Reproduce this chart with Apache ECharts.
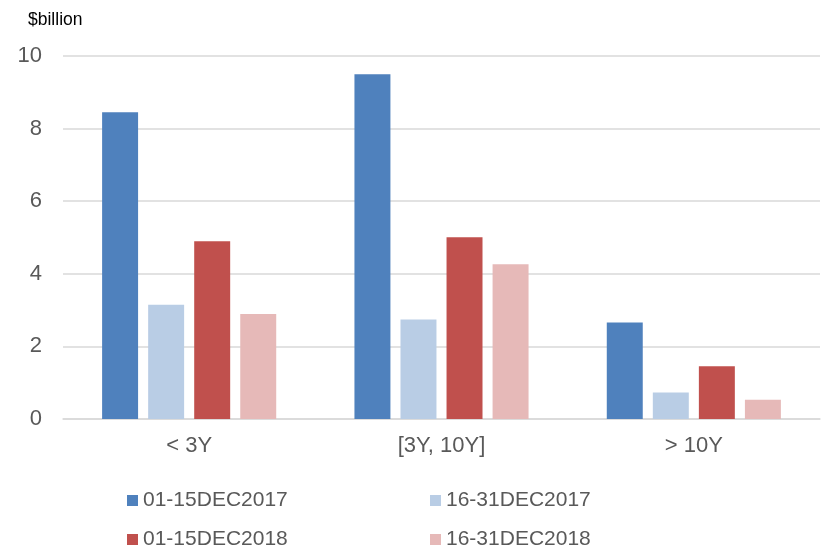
<!DOCTYPE html>
<html>
<head>
<meta charset="utf-8">
<script src="https://cdn.jsdelivr.net/npm/echarts@6/dist/echarts.min.js"></script>
<style>
  html, body { margin: 0; padding: 0; background: #fff; }
  #chart { width: 827px; height: 550px; }
</style>
</head>
<body>
<div id="chart"></div>
<script>
// 期限分类
const categories = ['< 3Y', '[3Y, 10Y]', '> 10Y'];
const seriesNames = ['01-15DEC2017', '16-31DEC2017', '01-15DEC2018', '16-31DEC2018'];
const dec2017a = [8.45, 9.50, 2.66];
const dec2017b = [3.15, 2.74, 0.73];
const dec2018a = [4.90, 5.01, 1.45];
const dec2018b = [2.89, 4.26, 0.53];
const yTicks = [0, 2, 4, 6, 8, 10];

const colors = ['#4f81bd', '#b9cde5', '#c0504d', '#e6b9b8'];
const values = [dec2017a, dec2017b, dec2018a, dec2018b];

const myChart = echarts.init(document.getElementById('chart'));

// 图例位置: 两列两行
const legendPos = [
  { left: 122, top: 485 },
  { left: 425, top: 485 },
  { left: 122, top: 524 },
  { left: 425, top: 524 }
];

const option = {
  animation: false,
  textStyle: { fontFamily: 'Liberation Sans, Arial, sans-serif' },
  title: {
    text: '$billion',
    left: 23,
    top: 6,
    textStyle: { color: '#000', fontSize: 17.5, fontWeight: 'normal' }
  },
  grid: {
    left: 63,
    right: 7,
    top: 56,
    bottom: 131
  },
  legend: seriesNames.map((name, i) => ({
    data: [name],
    left: legendPos[i].left,
    top: legendPos[i].top,
    itemWidth: 11,
    itemHeight: 11,
    icon: 'rect',
    textStyle: {
      color: '#595959',
      fontSize: 21,
      fontFamily: 'Liberation Sans, Arial, sans-serif'
    }
  })),
  xAxis: {
    type: 'category',
    data: categories,
    axisLine: { show: true, lineStyle: { color: '#d9d9d9', width: 1.5 } },
    axisTick: { show: false },
    axisLabel: { color: '#595959', fontSize: 22, margin: 16 }
  },
  yAxis: {
    type: 'value',
    min: yTicks[0],
    max: yTicks[yTicks.length - 1],
    interval: 2,
    axisLine: { show: false },
    axisTick: { show: false },
    splitLine: { lineStyle: { color: '#d9d9d9', width: 1.5 } },
    axisLabel: { color: '#595959', fontSize: 22, margin: 21 }
  },
  series: seriesNames.map((name, i) => ({
    name: name,
    type: 'bar',
    data: values[i],
    barGap: '28%',
    barCategoryGap: '31%',
    itemStyle: { color: colors[i] }
  }))
};

myChart.setOption(option);
</script>
</body>
</html>
